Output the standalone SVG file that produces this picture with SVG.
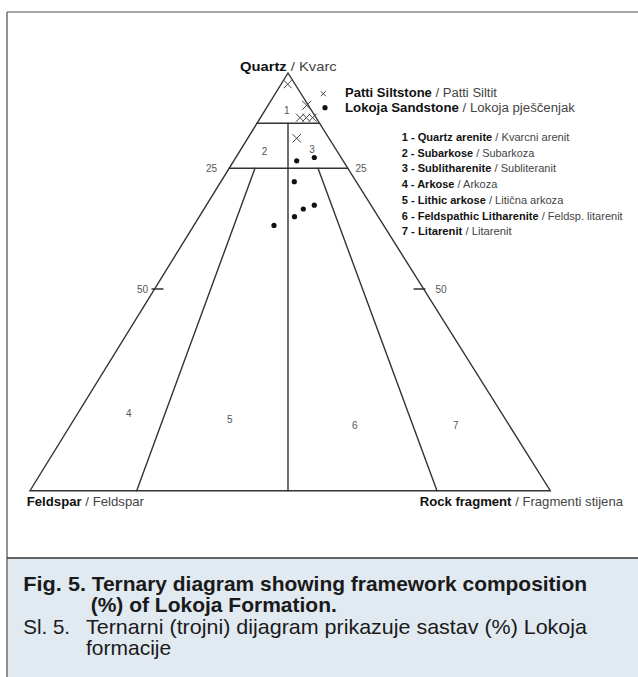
<svg xmlns="http://www.w3.org/2000/svg" width="638" height="677" viewBox="0 0 638 677">
<style>
.ln{stroke:#333;stroke-width:1.4;fill:none;stroke-linecap:round}
.x{stroke:#444;stroke-width:1;fill:none}
.dot{fill:#111}
.t{font-family:"Liberation Sans",Arial,Helvetica,sans-serif}
.b{font-weight:bold;fill:#111}
.r{fill:#444}
.num{font-family:"Liberation Sans",Arial,sans-serif;font-size:10px;fill:#555}
.cap{font-family:"Liberation Sans",Arial,Helvetica,sans-serif;font-size:21px;fill:#1a1a1a}
</style>
<rect x="0" y="0" width="638" height="677" fill="#fff"/>
<g id="frame">
<rect x="7" y="558" width="640" height="130" fill="#e1e9f1"/>
<line x1="7" y1="12" x2="640" y2="12" stroke="#8a8a8a" stroke-width="1.6"/>
<line x1="7" y1="12" x2="7" y2="677" stroke="#666" stroke-width="1.4"/>
<line x1="7" y1="558" x2="640" y2="558" stroke="#333" stroke-width="1.6"/>
</g>
<g id="connectors">
<polygon class="ln" points="288,73 30,490.7 550.3,490.7" stroke-linejoin="miter"/>
<line class="ln" x1="256.9" y1="123.3" x2="319.6" y2="123.3"/>
<line class="ln" x1="229.1" y1="168.3" x2="347.9" y2="168.3"/>
<line class="ln" x1="288" y1="123.3" x2="288" y2="490.7"/>
<line class="ln" x1="255" y1="168.3" x2="136.7" y2="490.7"/>
<line class="ln" x1="318" y1="168.3" x2="437" y2="490.7"/>
<line class="ln" x1="152" y1="289" x2="163" y2="289"/>
<line class="ln" x1="414" y1="289" x2="425" y2="289"/>
</g>
<g id="axis-labels">
<text class="t" x="240" y="71" font-size="13" textLength="96.7" lengthAdjust="spacingAndGlyphs"><tspan class="b">Quartz</tspan><tspan class="r"> / Kvarc</tspan></text>
<text class="t" x="26.7" y="506" font-size="13" textLength="117.3" lengthAdjust="spacingAndGlyphs"><tspan class="b">Feldspar</tspan><tspan class="r"> / Feldspar</tspan></text>
<text class="t" x="419.7" y="506" font-size="13" textLength="203.3" lengthAdjust="spacingAndGlyphs"><tspan class="b">Rock fragment</tspan><tspan class="r"> / Fragmenti stijena</tspan></text>
<text class="num" x="211.5" y="171.8" text-anchor="middle">25</text>
<text class="num" x="361" y="171.8" text-anchor="middle">25</text>
<text class="num" x="142.5" y="292.5" text-anchor="middle">50</text>
<text class="num" x="441" y="292.5" text-anchor="middle">50</text>
</g>
<g id="region-labels">
<text class="num" x="286.7" y="114.3" text-anchor="middle">1</text>
<text class="num" x="264.5" y="155.3" text-anchor="middle">2</text>
<text class="num" x="312" y="152.8" text-anchor="middle">3</text>
<text class="num" x="128.7" y="416.8" text-anchor="middle">4</text>
<text class="num" x="229.7" y="422.5" text-anchor="middle">5</text>
<text class="num" x="354.7" y="428.5" text-anchor="middle">6</text>
<text class="num" x="455.7" y="428.5" text-anchor="middle">7</text>
</g>
<g id="points">
<path class="x" d="M283.7 80.2L291.7 88.2M291.7 80.2L283.7 88.2"/>
<path class="x" d="M302.2 100.8L311.2 109.8M311.2 100.8L302.2 109.8"/>
<path class="x" d="M296 113.7L304 121.7M304 113.7L296 121.7"/>
<path class="x" d="M302.3 113.7L310.3 121.7M310.3 113.7L302.3 121.7"/>
<path class="x" d="M308.6 113.7L316.6 121.7M316.6 113.7L308.6 121.7"/>
<path class="x" d="M292.5 134.1L300.9 142.5M300.9 134.1L292.5 142.5"/>
<circle class="dot" cx="296.7" cy="160.8" r="2.6"/>
<circle class="dot" cx="314.3" cy="157.5" r="2.6"/>
<circle class="dot" cx="294.3" cy="181.7" r="2.6"/>
<circle class="dot" cx="303.3" cy="209" r="2.6"/>
<circle class="dot" cx="314.3" cy="205.2" r="2.6"/>
<circle class="dot" cx="294.5" cy="216.7" r="2.6"/>
<circle class="dot" cx="274" cy="225.4" r="2.6"/>
</g>
<g id="legend">
<path class="x" d="M320.8 91.2L325.8 96.2M325.8 91.2L320.8 96.2"/>
<circle class="dot" cx="325" cy="107.7" r="2.6"/>
<text class="t" x="345" y="96.7" font-size="12" textLength="152" lengthAdjust="spacingAndGlyphs"><tspan class="b">Patti Siltstone</tspan><tspan class="r"> / Patti Siltit</tspan></text>
<text class="t" x="345" y="111.7" font-size="12" textLength="230" lengthAdjust="spacingAndGlyphs"><tspan class="b">Lokoja Sandstone</tspan><tspan class="r"> / Lokoja pješčenjak</tspan></text>
<text class="t" x="401.7" y="141" font-size="11" textLength="167.6" lengthAdjust="spacingAndGlyphs"><tspan class="b">1 - Quartz arenite</tspan><tspan class="r"> / Kvarcni arenit</tspan></text>
<text class="t" x="401.7" y="156.7" font-size="11" textLength="132.6" lengthAdjust="spacingAndGlyphs"><tspan class="b">2 - Subarkose</tspan><tspan class="r"> / Subarkoza</tspan></text>
<text class="t" x="401.7" y="172.4" font-size="11" textLength="154.3" lengthAdjust="spacingAndGlyphs"><tspan class="b">3 - Sublitharenite</tspan><tspan class="r"> / Subliteranit</tspan></text>
<text class="t" x="401.7" y="188.1" font-size="11" textLength="95.6" lengthAdjust="spacingAndGlyphs"><tspan class="b">4 - Arkose</tspan><tspan class="r"> / Arkoza</tspan></text>
<text class="t" x="401.7" y="203.8" font-size="11" textLength="161.6" lengthAdjust="spacingAndGlyphs"><tspan class="b">5 - Lithic arkose</tspan><tspan class="r"> / Litična arkoza</tspan></text>
<text class="t" x="401.7" y="219.5" font-size="11" textLength="221" lengthAdjust="spacingAndGlyphs"><tspan class="b">6 - Feldspathic Litharenite</tspan><tspan class="r"> / Feldsp. litarenit</tspan></text>
<text class="t" x="401.7" y="235.2" font-size="11" textLength="110" lengthAdjust="spacingAndGlyphs"><tspan class="b">7 - Litarenit</tspan><tspan class="r"> / Litarenit</tspan></text>
</g>
<g id="caption">
<text class="cap" x="23.3" y="590.5" font-weight="bold" textLength="62.7" lengthAdjust="spacingAndGlyphs">Fig. 5.</text>
<text class="cap" x="91.7" y="590.5" font-weight="bold" textLength="495.3" lengthAdjust="spacingAndGlyphs">Ternary diagram showing framework composition</text>
<text class="cap" x="90.7" y="612.3" font-weight="bold">(%) of Lokoja Formation.</text>
<text class="cap" x="23.3" y="634" textLength="46.7" lengthAdjust="spacingAndGlyphs">Sl. 5.</text>
<text class="cap" x="86" y="634" textLength="501" lengthAdjust="spacingAndGlyphs">Ternarni (trojni) dijagram prikazuje sastav (%) Lokoja</text>
<text class="cap" x="86" y="655">formacije</text>
</g>
</svg>
